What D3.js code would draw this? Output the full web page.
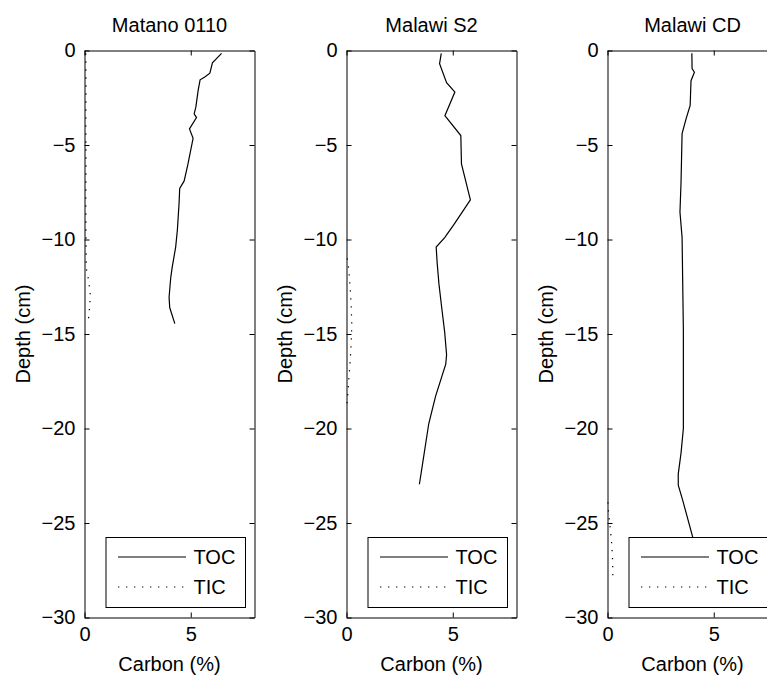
<!DOCTYPE html>
<html>
<head>
<meta charset="utf-8">
<script src="https://cdn.jsdelivr.net/npm/d3@7"></script>
<style>
  html, body { margin: 0; padding: 0; background: #fff; }
  svg { display: block; }
  text { font-family: "Liberation Sans", Arial, Helvetica, sans-serif; fill: #000; }
</style>
</head>
<body>
<svg id="chart" width="767" height="677"></svg>
<script>
// ---- data ----
const panelTitles = ["Matano 0110", "Malawi S2", "Malawi CD"];
const seriesNames = ["TOC", "TIC"];
const xTicks = [0, 5];
const yTicks = [0, -5, -10, -15, -20, -25, -30];

const matanoTocDepth = [-0.15, -0.65, -1.2, -1.4, -1.55, -2.1, -3.0, -3.35, -3.55, -4.15, -4.65, -6.0, -6.9, -7.3, -8.1, -9.5, -10.4, -11.45, -12.0, -13.05, -13.6, -14.45];
const matanoToc      = [6.45, 6.02, 5.9, 5.66, 5.44, 5.35, 5.24, 5.16, 5.27, 4.94, 5.11, 4.87, 4.69, 4.48, 4.45, 4.37, 4.29, 4.13, 4.06, 3.98, 4.01, 4.25];
const matanoTicDepth = [-0.15, -2, -4, -6, -8, -10, -11.5, -12.2, -13, -13.8, -14.45];
const matanoTic      = [0.06, 0.07, 0.06, 0.07, 0.06, 0.07, 0.08, 0.2, 0.28, 0.22, 0.17];

const s2TocDepth = [-0.15, -0.7, -1.7, -2.2, -3.45, -4.5, -6.0, -7.9, -9.2, -9.9, -10.4, -11.3, -12.35, -13.6, -14.9, -16.1, -16.6, -18.3, -19.75, -21.5, -22.95];
const s2Toc      = [4.46, 4.38, 4.71, 5.1, 4.63, 5.38, 5.41, 5.83, 5.06, 4.62, 4.22, 4.27, 4.35, 4.48, 4.62, 4.71, 4.67, 4.19, 3.87, 3.63, 3.43];
const s2TicDepth = [-11, -11.5, -12.5, -13.5, -14.5, -15.5, -16.5, -17.5, -18.3, -19];
const s2Tic      = [0.03, 0.1, 0.17, 0.22, 0.25, 0.22, 0.17, 0.1, 0.05, 0.0];

const cdTocDepth = [-0.15, -0.95, -1.15, -1.6, -2.9, -3.6, -4.4, -7.0, -8.55, -9.9, -14.8, -20.0, -21.3, -22.4, -23.0, -23.8, -25.75];
const cdToc      = [3.97, 3.98, 4.09, 3.93, 3.89, 3.70, 3.51, 3.46, 3.41, 3.51, 3.57, 3.57, 3.46, 3.33, 3.33, 3.54, 4.01];
const cdTicDepth = [-23.9, -24.5, -25, -25.5, -26, -26.5, -27, -27.5, -28];
const cdTic      = [0.02, 0.05, 0.1, 0.15, 0.19, 0.22, 0.24, 0.25, 0.25];

const panelData = [
  { toc: [matanoToc, matanoTocDepth], tic: [matanoTic, matanoTicDepth] },
  { toc: [s2Toc, s2TocDepth], tic: [s2Tic, s2TicDepth] },
  { toc: [cdToc, cdTocDepth], tic: [cdTic, cdTicDepth] }
];

// ---- layout ----
const svg = d3.select("#chart");
svg.append("rect").attr("width", 767).attr("height", 677).attr("fill", "#fff");
const lefts = [84.5, 346.5, 607.5];
const pw = 170, plotTop = 50.5, plotBottom = 617.5;
const FS = 20;
const tickLen = 5;

panelTitles.forEach((title, i) => {
  const L = lefts[i];
  const x = d3.scaleLinear().domain([0, 8]).range([L, L + pw]);
  const y = d3.scaleLinear().domain([-30, 0]).range([plotBottom, plotTop]);
  const g = svg.append("g");

  const line = d3.line().x(d => x(d[0])).y(d => y(d[1]));
  const toc = d3.zip(panelData[i].toc[0], panelData[i].toc[1]);
  const tic = d3.zip(panelData[i].tic[0], panelData[i].tic[1]);

  g.append("path").datum(tic).attr("d", line)
    .attr("fill", "none").attr("stroke", "#000").attr("stroke-width", 1.2)
    .attr("stroke-dasharray", "1.3,6.7");
  g.append("path").datum(toc).attr("d", line)
    .attr("fill", "none").attr("stroke", "#000").attr("stroke-width", 1.2);

  // axes
  const axL = g.append("g").attr("transform", `translate(${L},0)`)
    .call(d3.axisLeft(y).tickValues(yTicks).tickSizeInner(-tickLen).tickSizeOuter(0).tickPadding(9).tickFormat(d3.format("d")));
  const axR = g.append("g").attr("transform", `translate(${L + pw},0)`)
    .call(d3.axisRight(y).tickValues(yTicks).tickSizeInner(-tickLen).tickSizeOuter(0).tickFormat(""));
  const axT = g.append("g").attr("transform", `translate(0,${plotTop})`)
    .call(d3.axisTop(x).tickValues(xTicks).tickSizeInner(-tickLen).tickSizeOuter(0).tickFormat(""));
  const axB = g.append("g").attr("transform", `translate(0,${plotBottom})`)
    .call(d3.axisBottom(x).tickValues(xTicks).tickSizeInner(-tickLen).tickSizeOuter(0).tickPadding(9).tickFormat(d3.format("d")));
  [axL, axR, axT, axB].forEach(a => {
    a.select(".domain").attr("stroke", "#000").attr("stroke-width", 1);
    a.selectAll(".tick line").attr("stroke", "#000");
    a.selectAll("text").attr("font-size", FS).attr("font-family", "Liberation Sans, Arial, sans-serif").attr("fill", "#000");
  });

  // title, labels
  g.append("text").attr("x", L + pw / 2).attr("y", 32).attr("text-anchor", "middle")
    .attr("font-size", FS).text(title);
  g.append("text").attr("x", L + pw / 2).attr("y", 671).attr("text-anchor", "middle")
    .attr("font-size", FS).text("Carbon (%)");
  g.append("text").attr("transform", `translate(${L - 55},${(plotTop + plotBottom) / 2}) rotate(-90)`)
    .attr("text-anchor", "middle").attr("font-size", FS).text("Depth (cm)");

  // legend
  const lx = L + 21.5, ly = 537.5, lw = 139.5, lh = 70;
  const lg = g.append("g");
  lg.append("rect").attr("x", lx).attr("y", ly).attr("width", lw).attr("height", lh)
    .attr("fill", "#fff").attr("stroke", "#000").attr("stroke-width", 1);
  const rows = [{ name: seriesNames[0], dash: null, yy: ly + 19.5 }, { name: seriesNames[1], dash: "1.3,6.7", yy: ly + 49.5 }];
  rows.forEach(r => {
    lg.append("line").attr("x1", lx + 12).attr("x2", lx + 80).attr("y1", r.yy).attr("y2", r.yy)
      .attr("stroke", "#000").attr("stroke-width", 1.2).attr("stroke-dasharray", r.dash);
    lg.append("text").attr("x", lx + 87.5).attr("y", r.yy).attr("dy", "0.36em")
      .attr("font-size", FS).text(r.name);
  });
});
</script>
</body>
</html>
